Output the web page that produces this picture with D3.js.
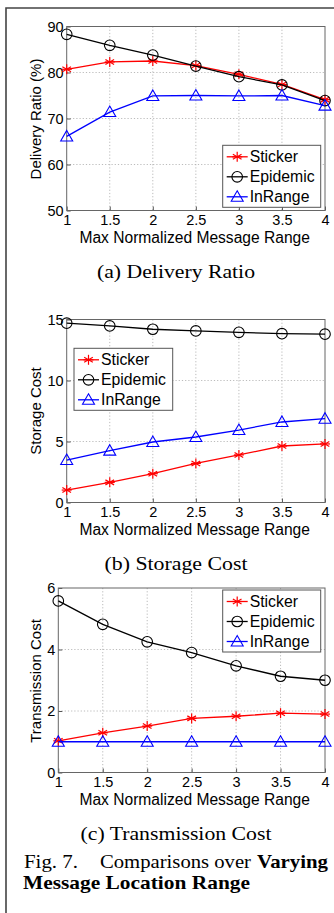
<!DOCTYPE html>
<html>
<head>
<meta charset="utf-8">
<script src="https://cdn.jsdelivr.net/npm/d3@7"></script>
<style>
  body { margin: 0; background: #fff; }
  svg { display: block; }
</style>
</head>
<body>
<svg id="fig" width="334" height="913"></svg>
<script>
// x values shared by all three panels
var ranges = [1, 1.5, 2, 2.5, 3, 3.5, 4];
var xTicks = [1, 1.5, 2, 2.5, 3, 3.5, 4];
var seriesNames = ['Sticker', 'Epidemic', 'InRange'];

// (a) delivery ratio
var deliverySticker  = [80.7, 82.3, 82.5, 81.5, 79.6, 77.4, 74.1];
var deliveryEpidemic = [88.3, 85.9, 83.8, 81.4, 79.1, 77.3, 73.9];
var deliveryInRange  = [66.1, 71.4, 74.9, 75.0, 74.9, 75.0, 72.8];
var deliveryTicks = [50, 60, 70, 80, 90];

// (b) storage cost
var storageSticker  = [1.02, 1.65, 2.36, 3.2, 3.9, 4.63, 4.8];
var storageEpidemic = [14.7, 14.47, 14.2, 14.06, 13.95, 13.84, 13.8];
var storageInRange  = [3.48, 4.25, 4.96, 5.37, 5.94, 6.6, 6.87];
var storageTicks = [0, 5, 10, 15];

// (c) transmission cost
var transSticker  = [1.03, 1.29, 1.51, 1.76, 1.83, 1.93, 1.9];
var transEpidemic = [5.58, 4.82, 4.25, 3.9, 3.47, 3.13, 3.0];
var transInRange  = [1.0, 1.0, 1.0, 1.0, 1.0, 1.0, 1.0];
var transTicks = [0, 2, 4, 6];

var svg = d3.select('#fig');
var colors = { Sticker: '#ff0000', Epidemic: '#000000', InRange: '#0000ff' };
var sans = 'Liberation Sans, Arial, sans-serif';
var serif = 'Liberation Serif, Times New Roman, serif';

// outer frame (page column border)
svg.append('path')
    .attr('d', 'M6,913 L6,8 L334,8')
    .attr('fill', 'none')
    .attr('stroke', '#444')
    .attr('stroke-width', 1.6);

function marker(g, name, cx, cy) {
  var c = colors[name];
  if (name === 'Sticker') {
    var r = 5;
    [0, 60, 120].forEach(function(a) {
      var rad = a * Math.PI / 180;
      g.append('line')
          .attr('x1', cx - r * Math.sin(rad)).attr('y1', cy - r * Math.cos(rad))
          .attr('x2', cx + r * Math.sin(rad)).attr('y2', cy + r * Math.cos(rad))
          .attr('stroke', c).attr('stroke-width', 1.2);
    });
    g.append('line')
        .attr('x1', cx - r).attr('y1', cy).attr('x2', cx + r).attr('y2', cy)
        .attr('stroke', c).attr('stroke-width', 1.2);
  } else if (name === 'Epidemic') {
    g.append('circle')
        .attr('cx', cx).attr('cy', cy).attr('r', 5.3)
        .attr('fill', 'none').attr('stroke', c).attr('stroke-width', 1.1);
  } else {
    var s = 6;
    g.append('path')
        .attr('d', 'M' + cx + ',' + (cy - s) + ' L' + (cx + s) + ',' + (cy + s * 0.75) +
              ' L' + (cx - s) + ',' + (cy + s * 0.75) + 'Z')
        .attr('fill', 'none').attr('stroke', c).attr('stroke-width', 1.1);
  }
}

function caption(txt, x, y, len, anchor, bold) {
  return svg.append('text')
      .attr('x', x).attr('y', y)
      .attr('text-anchor', anchor || 'start')
      .attr('font-weight', bold ? 'bold' : null)
      .attr('textLength', len)
      .attr('lengthAdjust', 'spacingAndGlyphs')
      .style('font-family', serif)
      .style('font-size', '19px')
      .text(txt);
}

function drawPanel(p) {
  var x = d3.scaleLinear().domain([1, 4]).range([p.left, p.right]);
  var y = d3.scaleLinear().domain(p.domain).range([p.bottom, p.top]);
  var g = svg.append('g');

  // dotted grid
  g.selectAll('.gx').data(xTicks.slice(1, -1)).enter().append('line')
      .attr('x1', x).attr('x2', x).attr('y1', p.top).attr('y2', p.bottom)
      .attr('stroke', '#aaa').attr('stroke-width', 0.8).attr('stroke-dasharray', '1.2,2');
  g.selectAll('.gy').data(p.ticks.slice(1, -1)).enter().append('line')
      .attr('y1', y).attr('y2', y).attr('x1', p.left).attr('x2', p.right)
      .attr('stroke', '#aaa').attr('stroke-width', 0.8).attr('stroke-dasharray', '1.2,2');

  // axes with inward ticks
  var xAxis = g.append('g').attr('transform', 'translate(0,' + p.bottom + ')')
      .call(d3.axisTop(x).tickValues(xTicks).tickSize(4).tickFormat(d3.format('')));
  xAxis.selectAll('text').attr('y', 4).attr('dy', '0.71em');
  var yAxis = g.append('g').attr('transform', 'translate(' + p.left + ',0)')
      .call(d3.axisRight(y).tickValues(p.ticks).tickSize(4).tickFormat(d3.format('')));
  yAxis.selectAll('text').attr('x', -3).attr('text-anchor', 'end');
  [xAxis, yAxis].forEach(function(a) {
    a.select('.domain').remove();
    a.selectAll('line').attr('stroke', '#555');
    a.selectAll('text')
        .attr('fill', '#000')
        .style('font-family', sans)
        .style('font-size', '14.5px');
  });

  // plot box
  g.append('rect')
      .attr('x', p.left).attr('y', p.top)
      .attr('width', p.right - p.left).attr('height', p.bottom - p.top)
      .attr('fill', 'none').attr('stroke', '#666').attr('stroke-width', 1);

  // series lines + markers
  var line = d3.line().x(function(d, i) { return x(ranges[i]); }).y(function(d) { return y(d); });
  seriesNames.forEach(function(name, k) {
    var vals = p.series[k];
    g.append('path').datum(vals)
        .attr('d', line)
        .attr('fill', 'none')
        .attr('stroke', colors[name])
        .attr('stroke-width', 1.3);
    vals.forEach(function(v, i) { marker(g, name, x(ranges[i]), y(v)); });
  });

  // axis titles
  g.append('text')
      .attr('x', 194.7).attr('y', p.bottom + 32)
      .attr('text-anchor', 'middle')
      .style('font-family', sans)
      .style('font-size', '15.6px')
      .text('Max Normalized Message Range');
  g.append('text')
      .attr('transform', 'translate(40.5,' + p.ylabelY + ') rotate(-90)')
      .attr('text-anchor', 'middle')
      .style('font-family', sans)
      .style('font-size', '15px')
      .text(p.ylabel);

  // legend
  var L = p.legend;
  g.append('rect')
      .attr('x', L.x).attr('y', L.y).attr('width', L.w).attr('height', 62)
      .attr('fill', '#fff').attr('stroke', '#555').attr('stroke-width', 1);
  seriesNames.forEach(function(name, k) {
    var ly = L.y + 11.5 + k * 20;
    g.append('line')
        .attr('x1', L.x + 4).attr('x2', L.x + 25).attr('y1', ly).attr('y2', ly)
        .attr('stroke', colors[name]).attr('stroke-width', 1.3);
    marker(g, name, L.x + 14.5, ly);
    g.append('text')
        .attr('x', L.x + 27).attr('y', ly).attr('dy', '0.35em')
        .style('font-family', sans)
        .style('font-size', '15.8px')
        .text(name);
  });

  // sub-caption
  caption(p.caption, 176, p.captionY, p.captionLen, 'middle');
}

drawPanel({
  left: 66.7, right: 325, top: 26.5, bottom: 210.5,
  domain: [50, 90], ticks: deliveryTicks,
  series: [deliverySticker, deliveryEpidemic, deliveryInRange],
  ylabel: 'Delivery Ratio (%)', ylabelY: 119,
  legend: { x: 222.7, y: 145.3, w: 98 },
  caption: '(a)  Delivery Ratio', captionY: 278, captionLen: 158
});

drawPanel({
  left: 66.7, right: 325, top: 319.5, bottom: 502.5,
  domain: [0, 15], ticks: storageTicks,
  series: [storageSticker, storageEpidemic, storageInRange],
  ylabel: 'Storage Cost', ylabelY: 411,
  legend: { x: 74, y: 348.3, w: 98.7 },
  caption: '(b)  Storage Cost', captionY: 570, captionLen: 143
});

drawPanel({
  left: 58.3, right: 325, top: 588, bottom: 772.5,
  domain: [0, 6], ticks: transTicks,
  series: [transSticker, transEpidemic, transInRange],
  ylabel: 'Transmission Cost', ylabelY: 681,
  legend: { x: 222.7, y: 590, w: 98 },
  caption: '(c)  Transmission Cost', captionY: 840, captionLen: 191
});

// figure caption
caption('Fig. 7.', 24, 868, 54);
caption('Comparisons over', 100, 868, 151);
caption('Varying', 328, 868, 71, 'end', true);
caption('Message Location Range', 23, 889, 227, 'start', true);
</script>
</body>
</html>
